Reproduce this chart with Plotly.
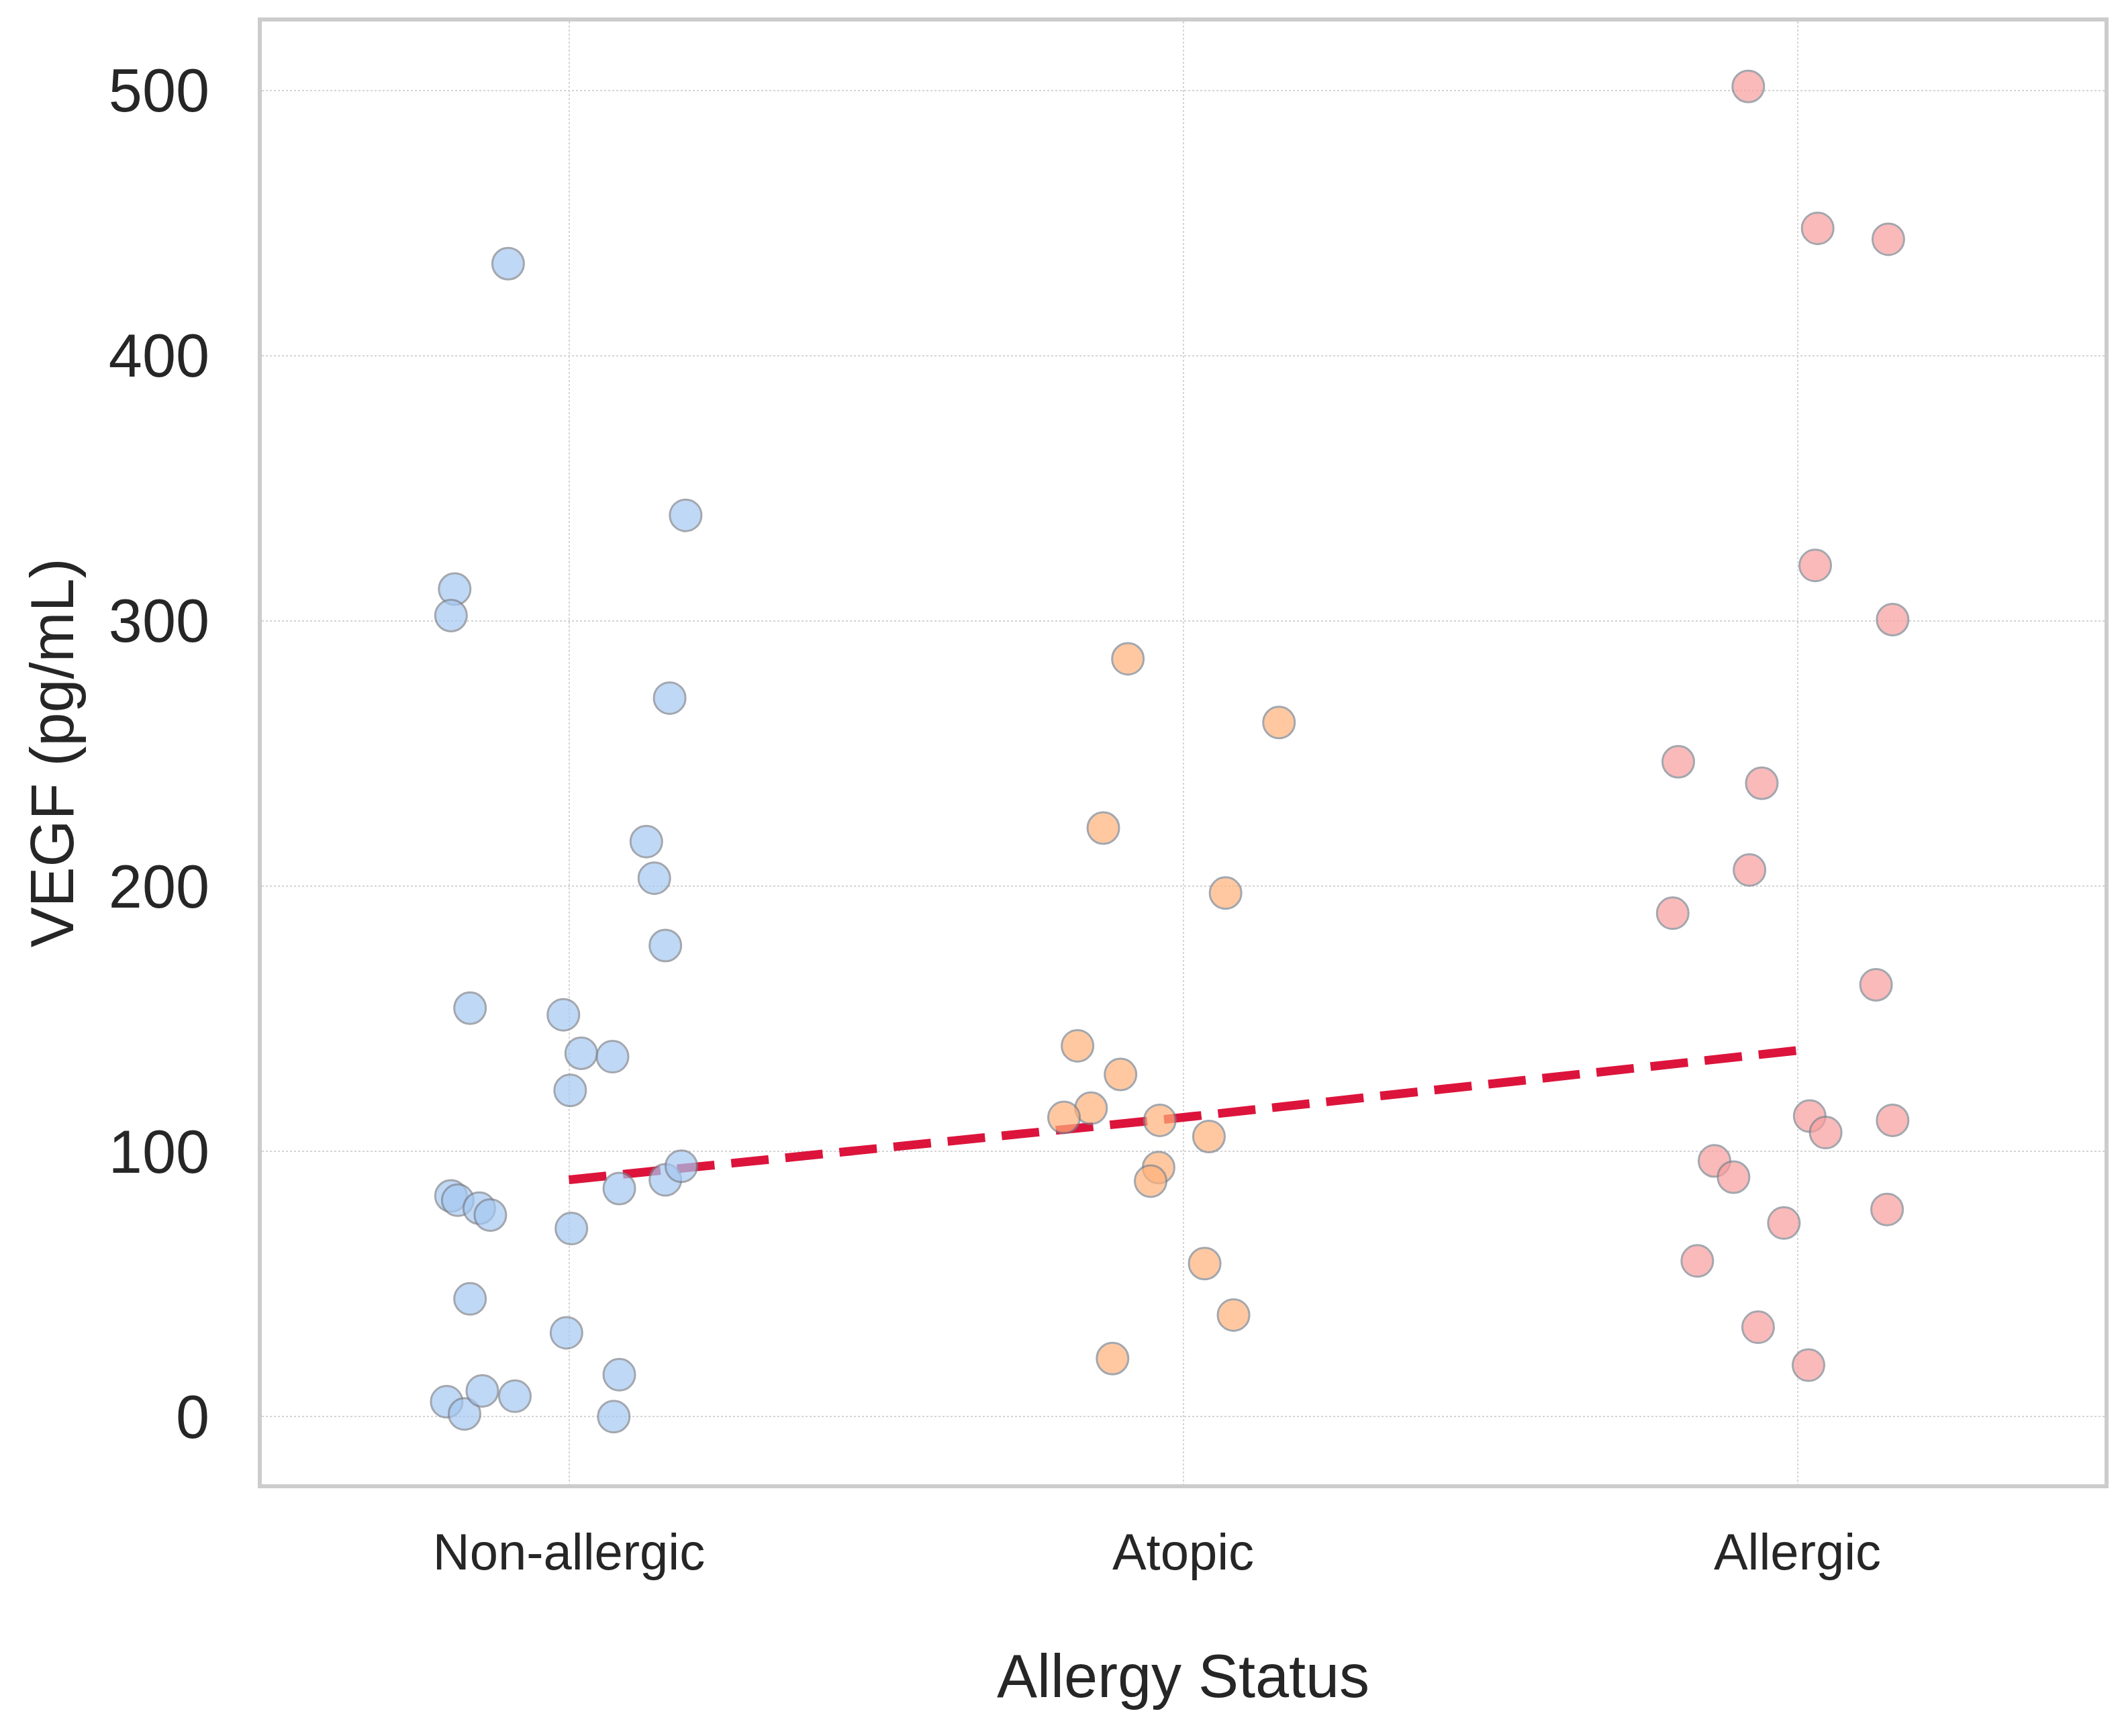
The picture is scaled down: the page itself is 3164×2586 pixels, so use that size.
import numpy as np
import plotly.graph_objects as go

categories = ["Non-allergic", "Atopic", "Allergic"]

# VEGF values (pg/mL), with the horizontal jitter offsets
nonallergic_vegf = [434.7, 312, 302, 339.8, 270.9, 216.8, 203, 177.6, 154, 151.5,
                    137, 135.7, 123, 83.2, 81.6, 78.6, 76, 86, 89.3, 94.4,
                    70.9, 44.4, 31.6, 15.8, 5.6, 1, 9.7, 7.7, 0]
nonallergic_jitter = [-0.099, -0.186, -0.192, 0.19, 0.164, 0.126, 0.139, 0.157, -0.161, -0.009,
                      0.02, 0.071, 0.002, -0.192, -0.181, -0.146, -0.128, 0.082, 0.157, 0.183,
                      0.004, -0.161, -0.004, 0.082, -0.199, -0.17, -0.141, -0.088, 0.073]

atopic_vegf = [285.7, 261.7, 221.9, 197.4, 139.8, 129, 116.3, 112.8, 111.7, 105.6,
               93.9, 88.8, 57.7, 38.3, 21.9]
atopic_jitter = [-0.09, 0.156, -0.13, 0.069, -0.172, -0.102, -0.15, -0.194, -0.038, 0.042,
                 -0.04, -0.053, 0.035, 0.082, -0.115]

allergic_vegf = [501.5, 448, 443.9, 320.9, 300.5, 246.9, 238.8, 206.1, 189.8, 162.8,
                 113.3, 107.1, 111.7, 96.4, 90.3, 78.1, 73, 58.7, 33.7, 19.4]
allergic_jitter = [-0.08, 0.033, 0.148, 0.029, 0.155, -0.194, -0.058, -0.078, -0.203, 0.128,
                   0.02, 0.046, 0.155, -0.135, -0.104, 0.146, -0.022, -0.163, -0.064, 0.018]

y_ticks = [0, 100, 200, 300, 400, 500]

groups = [
    (nonallergic_vegf, nonallergic_jitter, "rgb(164,200,242)"),
    (atopic_vegf, atopic_jitter, "rgb(255,178,122)"),
    (allergic_vegf, allergic_jitter, "rgb(248,158,158)"),
]

font_family = "Liberation Sans, Arial, Helvetica, sans-serif"
text_color = "#262626"

fig = go.Figure()

# Median trend line (drawn first so markers sit on top)
medians = [float(np.median(v)) for v, _, _ in groups]
fig.add_trace(go.Scatter(
    x=list(range(len(categories))), y=medians, mode="lines",
    line=dict(color="#DC143C", width=13, dash="56px,25px"),
    showlegend=False, hoverinfo="skip",
))

for i, (vals, jit, col) in enumerate(groups):
    fig.add_trace(go.Scatter(
        x=[i + j for j in jit], y=vals, mode="markers",
        marker=dict(size=47, color=col, opacity=0.7,
                    line=dict(color="rgb(125,130,140)", width=3)),
        name=categories[i], showlegend=False,
    ))

fig.update_layout(
    width=3164, height=2586,
    margin=dict(l=382, r=37, t=24, b=383),
    paper_bgcolor="white", plot_bgcolor="white",
    font=dict(family=font_family, color=text_color),
    showlegend=False,
)
fig.update_xaxes(
    range=[-0.5, 2.5],
    tickmode="array", tickvals=list(range(len(categories))), ticktext=categories,
    tickfont=dict(size=76, color=text_color),
    ticks="", ticklabelstandoff=30,
    showgrid=True, gridcolor="#d4d4d4", gridwidth=2, griddash="dot",
    zeroline=False,
    showline=True, linecolor="#cccccc", linewidth=6, mirror=True,
    title=dict(text="Allergy Status", font=dict(size=90, color=text_color), standoff=114),
)
fig.update_yaxes(
    range=[-25.5, 526],
    tickmode="array", tickvals=y_ticks, ticktext=[str(t) for t in y_ticks],
    tickfont=dict(size=90, color=text_color),
    ticks="", ticklabelstandoff=54,
    showgrid=True, gridcolor="#d4d4d4", gridwidth=2, griddash="dot",
    zeroline=False,
    showline=True, linecolor="#cccccc", linewidth=6, mirror=True,
    title=dict(text="VEGF (pg/mL)", font=dict(size=90, color=text_color), standoff=24),
)

fig.write_html("out.html")
